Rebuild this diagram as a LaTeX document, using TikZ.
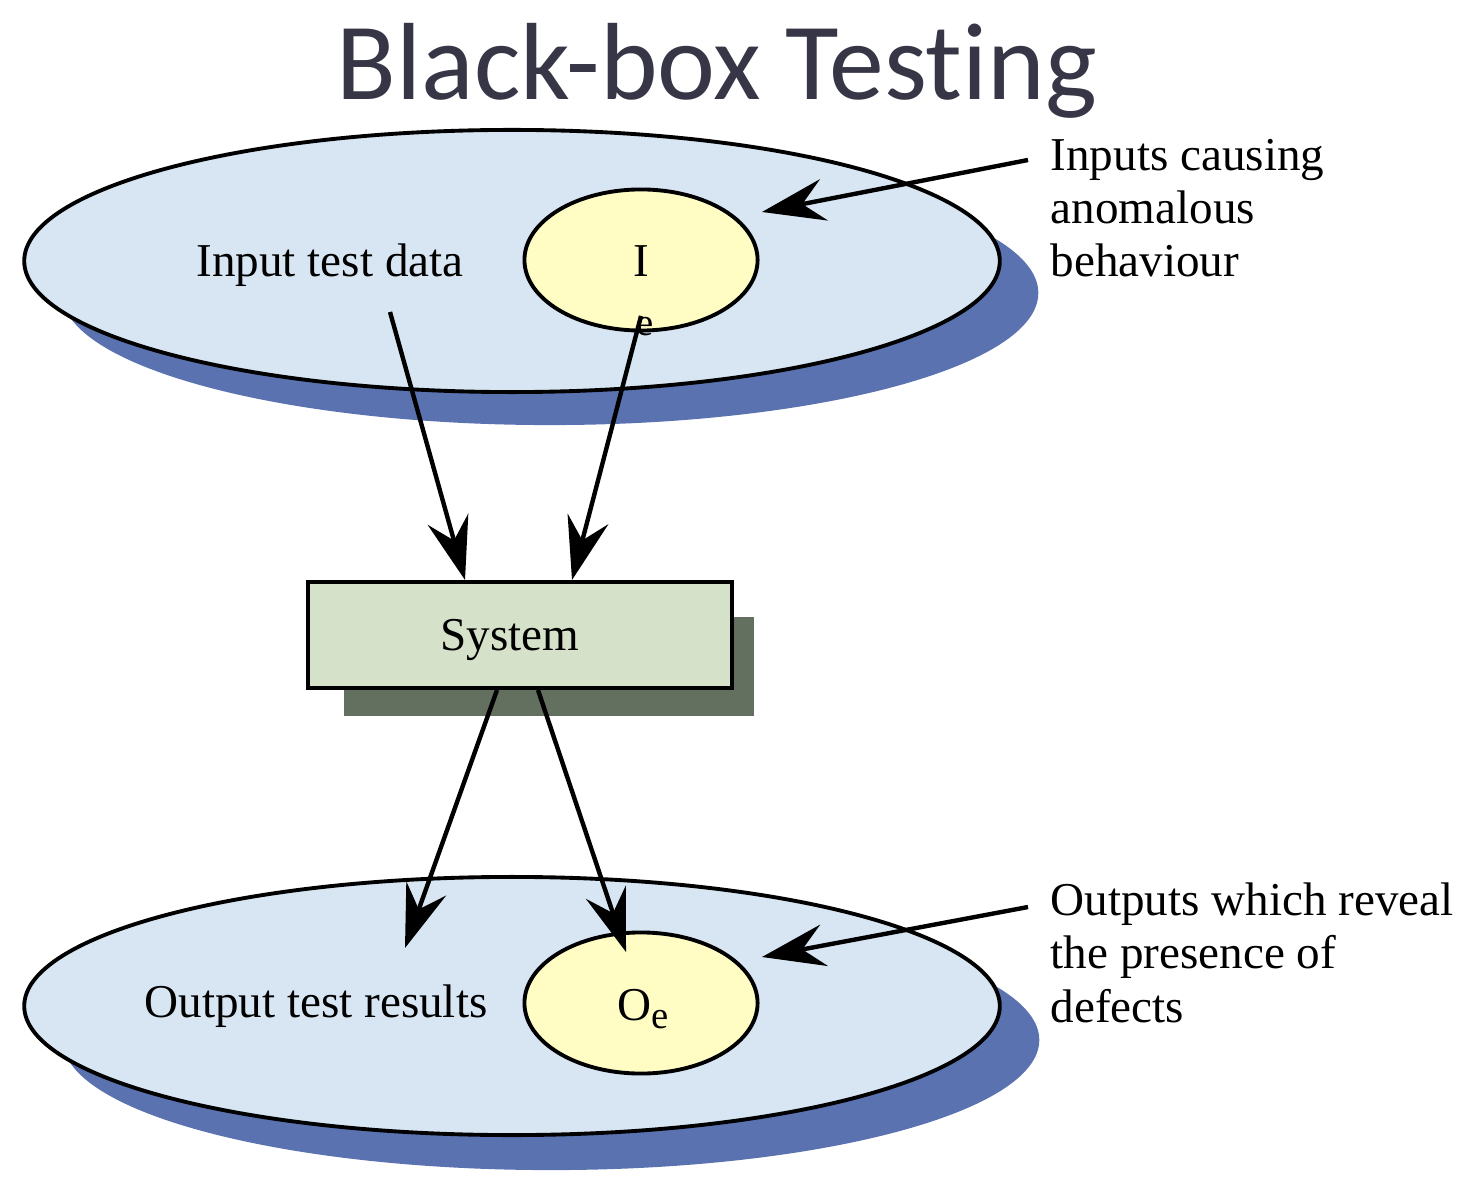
\documentclass[tikz,border=0pt]{standalone}
\usepackage{fontspec}
\setmainfont{Liberation Serif}
\newfontfamily\titlefont[Ligatures=NoCommon]{Carlito}
\usetikzlibrary{arrows.meta,shapes.geometric,positioning}
\definecolor{bbnavy}{RGB}{54,54,70}
\definecolor{bbsky}{RGB}{216,230,243}
\definecolor{bbshade}{RGB}{90,114,176}
\definecolor{bbcream}{RGB}{255,253,196}
\definecolor{bbsage}{RGB}{214,225,201}
\definecolor{bbmoss}{RGB}{99,112,96}
\tikzstyle{arrow} = [line width=1.25pt,-{Stealth[length=6.3mm,width=4.2mm,inset=2.2mm]}]
\tikzstyle{bigoval} = [ellipse, draw, line width=1.1pt, fill=bbsky, minimum width=9.75cm, minimum height=2.62cm]
\tikzstyle{smalloval} = [ellipse, draw, line width=1.1pt, fill=bbcream, minimum width=2.33cm, minimum height=1.41cm, inner sep=0pt]
\tikzstyle{lbl} = [font=\fontsize{13.4}{15.2}\selectfont, inner sep=0pt]

\begin{document}
\begin{tikzpicture}[x=0.01cm, y=-0.01cm]
    \useasboundingbox (0,0) rectangle (1474,1180);
    \fill[white] (0,0) rectangle (1474,1180);

    % Title
    \node[anchor=base, font=\titlefont\fontsize{31.2}{37}\selectfont, text=bbnavy] (title) at (717,100) {Black-box Testing};

    % Input set
    \fill[bbshade] (550,293) ellipse [x radius=4.88cm, y radius=1.32cm];
    \node[bigoval] (inset) at (512,261) {};
    \node[lbl, anchor=base] (indata) at (330,277) {Input test data};
    \node[smalloval] (ie) at (641,260) {};
    \node[lbl, anchor=base] (iname) at (641,277) {I};
    \node[lbl, anchor=base, font=\fontsize{11}{12}\selectfont] (isub) at (645,336) {e};
    \node[lbl, anchor=base west, align=left] (incause) at (1050,277) {Inputs causing\\anomalous\\behaviour};

    % System
    \fill[bbmoss] (344,617) rectangle (754,716);
    \node[rectangle, draw, line width=1.1pt, fill=bbsage, minimum width=4.23cm, minimum height=1.06cm] (sys) at (520,635) {};
    \node[lbl, anchor=base] (sysname) at (510,650) {System};

    % Output set
    \fill[bbshade] (551,1040) ellipse [x radius=4.88cm, y radius=1.30cm];
    \node[bigoval, minimum height=2.58cm] (outset) at (512,1006) {};
    \node[lbl, anchor=base] (outdata) at (316,1017) {Output test results};
    \node[smalloval] (oe) at (641,1003) {};
    \node[lbl, anchor=base] (oname) at (643,1020) {O\raisebox{-0.4ex}{\fontsize{11}{12}\selectfont e}};
    \node[lbl, anchor=base west, align=left] (outreveal) at (1050,1022) {Outputs which reveal\\the presence of\\defects};

    % Connectors
    \coordinate (infrom) at (390,312);
    \coordinate (ifrom) at (641,316);
    \coordinate (sysin1) at (465,580);
    \coordinate (sysin2) at (572,580);
    \coordinate (sysout1) at (497,690);
    \coordinate (sysout2) at (538,690);
    \coordinate (outto) at (405,948);
    \coordinate (oeto) at (626,952);
    \coordinate (ipoint) at (762,212);
    \coordinate (opoint) at (762,957);
    \coordinate (causefrom) at (1028,160);
    \coordinate (revealfrom) at (1028,907);

    \draw[arrow] (infrom) -- (sysin1);
    \draw[arrow] (ifrom) -- (sysin2);
    \draw[arrow] (sysout1) -- (outto);
    \draw[arrow] (sysout2) -- (oeto);
    \draw[arrow] (causefrom) -- (ipoint);
    \draw[arrow] (revealfrom) -- (opoint);
\end{tikzpicture}
\end{document}
